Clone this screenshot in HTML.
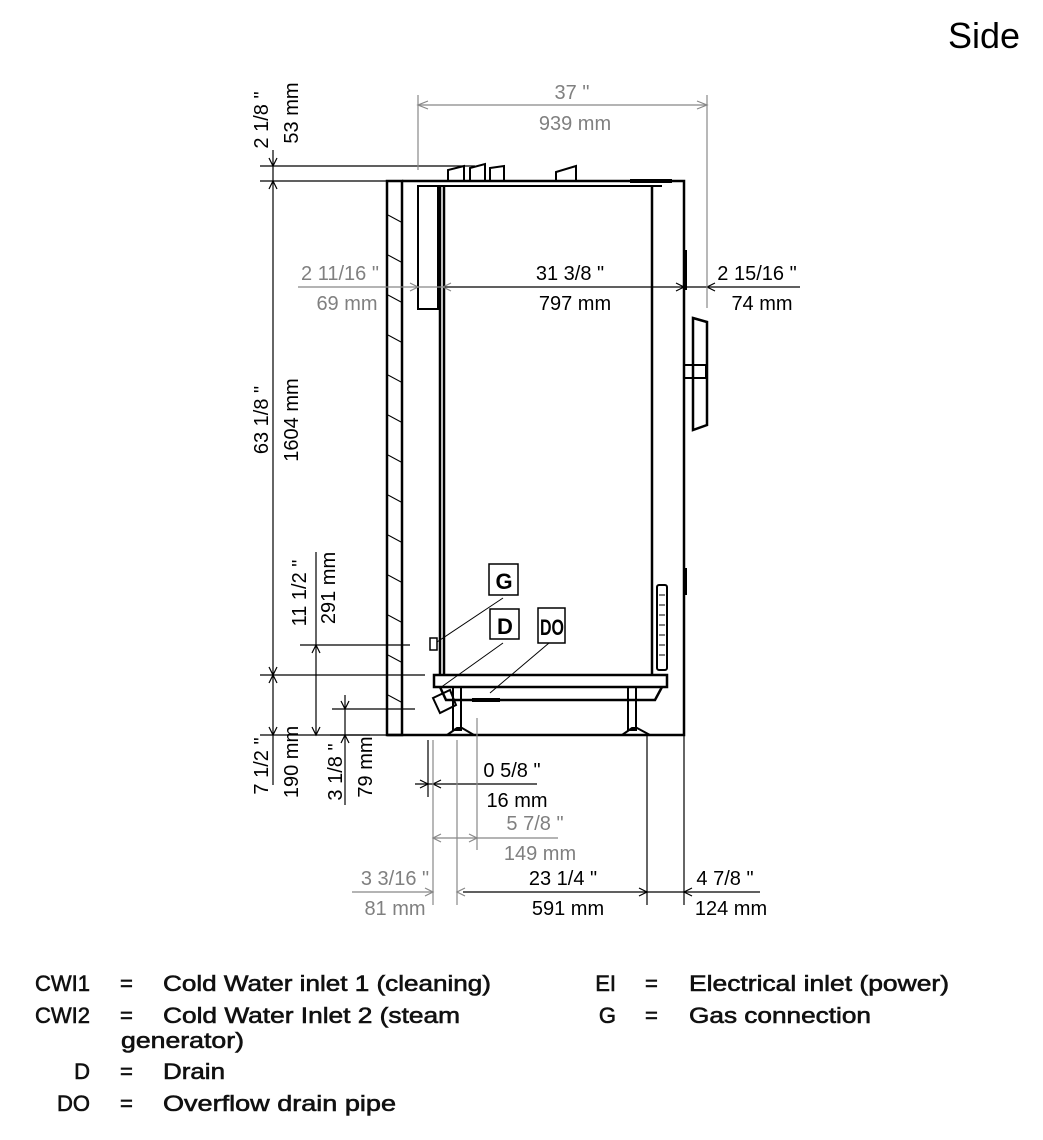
<!DOCTYPE html>
<html><head><meta charset="utf-8"><style>
html,body{margin:0;padding:0;background:#fff;}
svg{display:block}
.t{font-family:"Liberation Sans",sans-serif;font-size:20px;}
.g{fill:#808080}
.lg{font-family:"Liberation Sans",sans-serif;font-size:22px;fill:#111;stroke:#111;stroke-width:0.6}
</style></head><body>
<svg width="1043" height="1140" viewBox="0 0 1043 1140" xmlns="http://www.w3.org/2000/svg">
<text x="1020" y="48" text-anchor="end" style="font-family:'Liberation Sans',sans-serif;font-size:36px">Side</text>

<!-- body -->
<g fill="none" stroke="#000" stroke-width="2.5">
<rect x="387" y="181" width="15" height="554"/>
<path d="M402 181 H684 V735 H387"/>
<rect x="418" y="186" width="20" height="123" stroke-width="2"/>
<line x1="440" y1="186" x2="440" y2="675"/>
<line x1="444" y1="186" x2="444" y2="675"/>
<line x1="418" y1="186" x2="662" y2="186" stroke-width="2"/>
<line x1="652" y1="186" x2="652" y2="675"/>
<rect x="434" y="675" width="233" height="12"/>
<path d="M440 687 L446 700 H655 L662 687"/>
<rect x="453" y="687" width="8" height="43" stroke-width="2"/>
<rect x="628" y="687" width="8" height="43" stroke-width="2"/>
<path d="M447 735 L457 728 H462 L474 735" stroke-width="2"/>
<path d="M622 735 L632 728 H637 L650 735" stroke-width="2"/>
<rect x="657" y="585" width="10" height="85" rx="2" stroke-width="2"/>
<path d="M693 318 L707 322 V425 L693 430 Z"/>
<rect x="684" y="365" width="22" height="13" stroke-width="2"/>
<line x1="686" y1="250" x2="686" y2="290" stroke-width="2"/>
<line x1="686" y1="568" x2="686" y2="595" stroke-width="2"/>
<rect x="430" y="638" width="7" height="12" stroke-width="1.5"/>
<path d="M433 698 L450 690 L456 705 L440 713 Z" stroke-width="2"/>
<path d="M448 181 V170 L464 166 V181 M470 181 V168 L485 164 V181 M490 181 V168 L504 166 V181" stroke-width="2"/>
<path d="M556 181 V172 L576 166 V181" stroke-width="2"/>
<line x1="630" y1="181" x2="672" y2="181" stroke-width="4"/>
<line x1="472" y1="700" x2="500" y2="700" stroke-width="4"/>
</g>
<g stroke="#000" stroke-width="1">
<line x1="388" y1="215" x2="401" y2="222"/><line x1="388" y1="255" x2="401" y2="262"/><line x1="388" y1="295" x2="401" y2="302"/><line x1="388" y1="335" x2="401" y2="342"/><line x1="388" y1="375" x2="401" y2="382"/><line x1="388" y1="415" x2="401" y2="422"/><line x1="388" y1="455" x2="401" y2="462"/><line x1="388" y1="495" x2="401" y2="502"/><line x1="388" y1="535" x2="401" y2="542"/><line x1="388" y1="575" x2="401" y2="582"/><line x1="388" y1="615" x2="401" y2="622"/><line x1="388" y1="655" x2="401" y2="662"/><line x1="388" y1="695" x2="401" y2="702"/>
<line x1="659" y1="595" x2="665" y2="595"/><line x1="659" y1="605" x2="665" y2="605"/><line x1="659" y1="615" x2="665" y2="615"/><line x1="659" y1="625" x2="665" y2="625"/><line x1="659" y1="635" x2="665" y2="635"/><line x1="659" y1="645" x2="665" y2="645"/><line x1="659" y1="655" x2="665" y2="655"/>
<line x1="437" y1="642" x2="503" y2="598"/>
<line x1="440" y1="688" x2="503" y2="643"/>
<line x1="490" y1="693" x2="549" y2="643"/>
</g>

<g stroke="#000" stroke-width="1.2" fill="none">
<line x1="260" y1="166" x2="475" y2="166"/>
<line x1="260" y1="181" x2="386" y2="181"/>
<line x1="273" y1="150" x2="273" y2="785"/>
<path d="M269 158 L273 166 L277 158 M269 189 L273 181 L277 189"/>
<line x1="260" y1="675" x2="425" y2="675"/>
<line x1="260" y1="735" x2="386" y2="735"/>
<path d="M269 667 L273 675 L277 667 M269 683 L273 675 L277 683 M269 727 L273 735 L277 727"/>
<line x1="316" y1="552" x2="316" y2="735"/>
<line x1="300" y1="645" x2="410" y2="645"/>
<path d="M312 653 L316 645 L320 653 M312 727 L316 735 L320 727"/>
<line x1="345" y1="695" x2="345" y2="805"/>
<line x1="332" y1="709" x2="415" y2="709"/>
<line x1="330" y1="735" x2="370" y2="735"/>
<path d="M341 701 L345 709 L349 701 M341 743 L345 735 L349 743"/>
<line x1="443" y1="287" x2="800" y2="287"/>
<path d="M676 283 L684 287 L676 291 M715 283 L707 287 L715 291"/>
<line x1="428" y1="740" x2="428" y2="797"/>
<line x1="415" y1="784" x2="537" y2="784"/>
<path d="M420 780 L428 784 L420 788 M441 780 L433 784 L441 788"/>
<line x1="647" y1="735" x2="647" y2="905"/>
<line x1="684" y1="735" x2="684" y2="905"/>
<line x1="463" y1="892" x2="760" y2="892"/>
<path d="M639 888 L647 892 L639 896 M692 888 L684 892 L692 896"/>
</g>
<g stroke="#888" stroke-width="1.2" fill="none">
<line x1="418" y1="95" x2="418" y2="170"/>
<line x1="707" y1="95" x2="707" y2="308"/>
<line x1="418" y1="105" x2="707" y2="105"/>
<path d="M428 101 L418 105 L428 109 M697 101 L707 105 L697 109"/>
<line x1="298" y1="287" x2="443" y2="287"/>
<path d="M410 283 L418 287 L410 291 M451 283 L443 287 L451 291"/>
<line x1="433" y1="740" x2="433" y2="905"/>
<line x1="477" y1="718" x2="477" y2="850"/>
<line x1="457" y1="740" x2="457" y2="905"/>
<line x1="433" y1="838" x2="558" y2="838"/>
<path d="M441 834 L433 838 L441 842 M469 834 L477 838 L469 842"/>
<line x1="352" y1="892" x2="433" y2="892"/>
<path d="M425 888 L433 892 L425 896 M465 888 L457 892 L465 896"/>
</g>

<g fill="none" stroke="#000" stroke-width="1.5">
<rect x="489" y="564" width="29" height="31"/>
<rect x="490" y="609" width="29" height="30"/>
<rect x="538" y="608" width="27" height="35"/>
</g>
<g style="font-family:'Liberation Sans',sans-serif;font-weight:bold;font-size:22px" text-anchor="middle">
<text x="504" y="589">G</text><text x="505" y="634">D</text><text x="552" y="635" textLength="24" lengthAdjust="spacingAndGlyphs">DO</text>
</g>

<g class="t">
<text class="g" x="572" y="99" text-anchor="middle">37 "</text>
<text class="g" x="575" y="130" text-anchor="middle">939 mm</text>
<text x="570" y="280" text-anchor="middle">31  3/8 "</text>
<text x="575" y="310" text-anchor="middle">797 mm</text>
<text class="g" x="340" y="280" text-anchor="middle">2  11/16 "</text>
<text class="g" x="347" y="310" text-anchor="middle">69 mm</text>
<text x="757" y="280" text-anchor="middle">2  15/16 "</text>
<text x="762" y="310" text-anchor="middle">74 mm</text>
<text x="512" y="777" text-anchor="middle">0  5/8 "</text>
<text x="517" y="807" text-anchor="middle">16 mm</text>
<text class="g" x="535" y="830" text-anchor="middle">5  7/8 "</text>
<text class="g" x="540" y="860" text-anchor="middle">149 mm</text>
<text class="g" x="395" y="885" text-anchor="middle">3  3/16 "</text>
<text class="g" x="395" y="915" text-anchor="middle">81 mm</text>
<text x="563" y="885" text-anchor="middle">23  1/4 "</text>
<text x="568" y="915" text-anchor="middle">591 mm</text>
<text x="725" y="885" text-anchor="middle">4  7/8 "</text>
<text x="731" y="915" text-anchor="middle">124 mm</text>
<text transform="translate(268,120) rotate(-90)" text-anchor="middle">2  1/8 "</text>
<text transform="translate(298,113) rotate(-90)" text-anchor="middle">53 mm</text>
<text transform="translate(268,420) rotate(-90)" text-anchor="middle">63  1/8 "</text>
<text transform="translate(298,420) rotate(-90)" text-anchor="middle">1604 mm</text>
<text transform="translate(306,593) rotate(-90)" text-anchor="middle">11  1/2 "</text>
<text transform="translate(335,588) rotate(-90)" text-anchor="middle">291 mm</text>
<text transform="translate(268,766) rotate(-90)" text-anchor="middle">7  1/2 "</text>
<text transform="translate(298,762) rotate(-90)" text-anchor="middle">190 mm</text>
<text transform="translate(342,772) rotate(-90)" text-anchor="middle">3  1/8 "</text>
<text transform="translate(372,767) rotate(-90)" text-anchor="middle">79 mm</text>
</g>

<g class="lg">
<text x="90" y="991" text-anchor="end">CWI1</text><text x="120" y="991">=</text><text x="163" y="991" textLength="328" lengthAdjust="spacingAndGlyphs">Cold Water inlet 1 (cleaning)</text>
<text x="90" y="1023" text-anchor="end">CWI2</text><text x="120" y="1023">=</text><text x="163" y="1023" textLength="297" lengthAdjust="spacingAndGlyphs">Cold Water Inlet 2 (steam</text>
<text x="121" y="1048" textLength="123" lengthAdjust="spacingAndGlyphs">generator)</text>
<text x="90" y="1079" text-anchor="end">D</text><text x="120" y="1079">=</text><text x="163" y="1079" textLength="62" lengthAdjust="spacingAndGlyphs">Drain</text>
<text x="90" y="1111" text-anchor="end">DO</text><text x="120" y="1111">=</text><text x="163" y="1111" textLength="233" lengthAdjust="spacingAndGlyphs">Overflow drain pipe</text>
<text x="616" y="991" text-anchor="end">EI</text><text x="645" y="991">=</text><text x="689" y="991" textLength="260" lengthAdjust="spacingAndGlyphs">Electrical inlet (power)</text>
<text x="616" y="1023" text-anchor="end">G</text><text x="645" y="1023">=</text><text x="689" y="1023" textLength="182" lengthAdjust="spacingAndGlyphs">Gas connection</text>
</g>
</svg>
</body></html>
